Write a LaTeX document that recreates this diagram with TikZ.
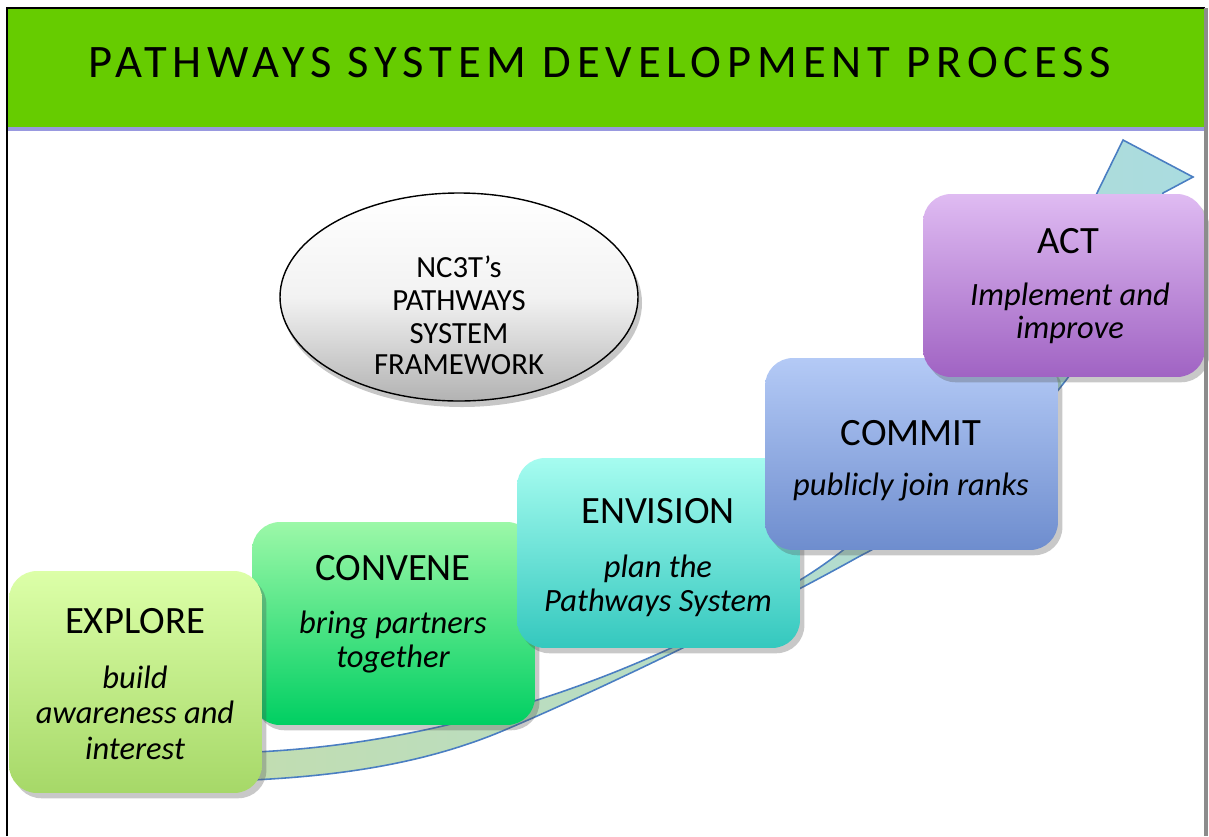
\documentclass[tikz,border=0pt]{standalone}
\usepackage{fontspec}
\setmainfont{Carlito}
\newfontfamily\titlefont[LetterSpace=12.5]{Carlito}
\usetikzlibrary{shadows}
\definecolor{barGreen}{HTML}{66CC00}
\definecolor{exA}{HTML}{DCFFA8}
\definecolor{exB}{HTML}{A6D868}
\definecolor{cvA}{HTML}{9CF8A8}
\definecolor{cvB}{HTML}{00CF62}
\definecolor{enA}{HTML}{A6FCF0}
\definecolor{enB}{HTML}{34C8BE}
\definecolor{cmA}{HTML}{B4CAF6}
\definecolor{cmB}{HTML}{6E8DCE}
\definecolor{acA}{HTML}{DFBBF2}
\definecolor{acB}{HTML}{A063C3}
\definecolor{arA}{HTML}{C2DDB0}
\definecolor{arB}{HTML}{AADCE0}
\definecolor{arLine}{HTML}{4A7EC2}
\begin{document}
\begin{tikzpicture}[x=0.02cm,y=-0.02cm,
  stepbox/.style={rounded corners=0.56cm, draw=none, minimum width=#1},
  boxshadow/.style={drop shadow={shadow xshift=2.5pt, shadow yshift=-3pt, opacity=0.3, fill=black!70}},
  boxtitle/.style={anchor=base, inner sep=0pt, font=\fontsize{22}{24}\selectfont},
  boxsub/.style={anchor=base, inner sep=0pt, font=\fontsize{18.5}{20}\selectfont\itshape},
  elltext/.style={anchor=base, inner sep=0pt, font=\fontsize{17.5}{19}\selectfont},
]
\useasboundingbox (0,0) rectangle (1209,836);
\fill[white] (0,0) rectangle (1209,836);

% curved arrow (behind the boxes)
\filldraw[draw=arLine, line width=0.9pt, left color=arA, right color=arB]
  (225,753) .. controls (400,750) and (600,700) .. (800,580)
  .. controls (900,520) and (1020,380) .. (1097,193)
  -- (1123,140) -- (1193,177) -- (1163,193)
  .. controls (1130,320) and (1010,480) .. (860,556)
  .. controls (760,612) and (600,690) .. (500,732)
  .. controls (420,765) and (330,778) .. (225,781) -- cycle;

% step boxes
\node[stepbox=5.66cm, minimum height=4.06cm, top color=cvA, bottom color=cvB, boxshadow] (convene) at (393.5,623.5) {};
\node[stepbox=5.06cm, minimum height=4.44cm, top color=exA, bottom color=exB, boxshadow] (explore) at (135.5,682) {};
\node[stepbox=5.66cm, minimum height=3.80cm, top color=enA, bottom color=enB, boxshadow] (envision) at (658.5,553) {};
\node[stepbox=5.86cm, minimum height=3.84cm, top color=cmA, bottom color=cmB, boxshadow] (commit) at (911.5,454) {};
\node[stepbox=5.64cm, minimum height=3.66cm, top color=acA, bottom color=acB, boxshadow] (act) at (1064,285.5) {};

% texts
\node[boxtitle] (exT) at (135,633) {EXPLORE};
\node[boxsub] (exS1) at (135,688) {build};
\node[boxsub] (exS2) at (135,723) {awareness and};
\node[boxsub] (exS3) at (135,759) {interest};

\node[boxtitle] (cvT) at (393,580) {CONVENE};
\node[boxsub] (cvS1) at (393,633) {bring partners};
\node[boxsub] (cvS2) at (393,667) {together};

\node[boxtitle] (enT) at (658,523) {ENVISION};
\node[boxsub] (enS1) at (658,577) {plan the};
\node[boxsub] (enS2) at (658,611) {Pathways System};

\node[boxtitle] (cmT) at (911,445) {COMMIT};
\node[boxsub] (cmS1) at (911,495) {publicly join ranks};

\node[boxtitle] (acT) at (1068,253) {ACT};
\node[boxsub] (acS1) at (1070,305) {Implement and};
\node[boxsub] (acS2) at (1070,338) {improve};

% ellipse
\fill[black, opacity=0.22] (462,303) ellipse [x radius=180, y radius=104];
\draw[black, line width=0.8pt, top color=white, bottom color=black!30, middle color=white!95!black]
  (459,297) ellipse [x radius=179, y radius=104];
\coordinate (ell) at (459,297);
\node[elltext] (el1) at (459,277) {NC3T’s};
\node[elltext] (el2) at (459,310) {PATHWAYS};
\node[elltext] (el3) at (459,343) {SYSTEM};
\node[elltext] (el4) at (459,374) {FRAMEWORK};

% title bar
\fill[black!30!blue!40] (8,126) rectangle (1205,131);
\fill[barGreen] (8,9) rectangle (1205,127);
\node[anchor=base, inner sep=0pt, font=\fontsize{26.5}{28}\selectfont\titlefont] (title) at (600,77) {PATHWAYS SYSTEM DEVELOPMENT PROCESS};

% frame
\draw[black, line width=1.6pt] (7,836) -- (7,8) -- (1205,8);
\draw[black!45, line width=2.2pt] (1206,8) -- (1206,836);
\end{tikzpicture}
\end{document}
